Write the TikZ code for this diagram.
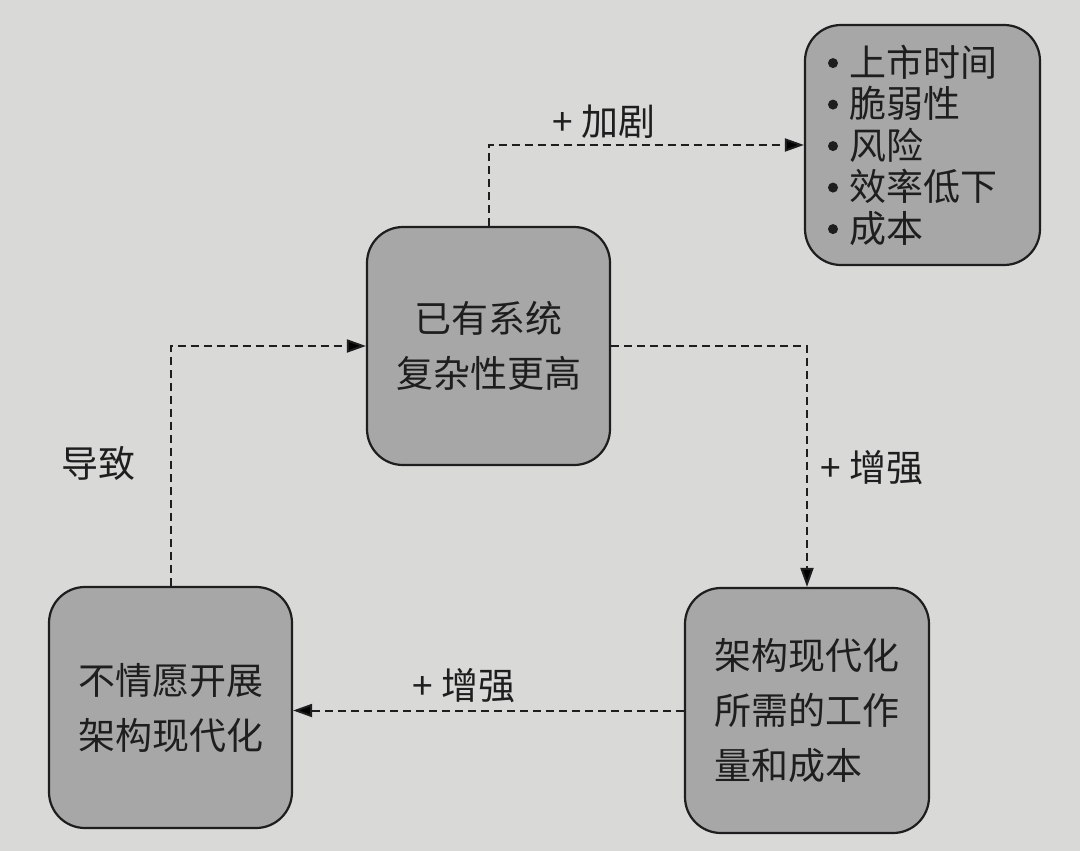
\documentclass[tikz,border=0pt]{standalone}
\usepackage{fontspec}
\setmainfont{Noto Sans CJK SC}
\usetikzlibrary{arrows.meta}
\definecolor{bg}{HTML}{D9D9D7}
\definecolor{boxfill}{HTML}{A7A7A7}
\definecolor{ink}{HTML}{1E1E1E}
\newcommand\bul{\makebox[21pt][l]{\tikz[baseline={(0pt,-13pt)}]\fill[ink] (0pt,0pt) circle (5pt);}}
\begin{document}
\begin{tikzpicture}[x=1pt,y=-1pt,
  box/.style={draw=ink, line width=2.2pt, fill=boxfill, rounded corners=36pt,
    inner sep=0pt, text=ink, font=\fontsize{37}{55}\selectfont},
  flow/.style={draw=ink, line width=2pt, dash pattern=on 8pt off 5pt,
    -{Triangle[length=19pt,width=13pt]}},
  lbl/.style={text=ink, font=\fontsize{37}{44}\selectfont, inner sep=0pt}]
\fill[bg] (0,0) rectangle (1080,851);
\useasboundingbox (0,0) rectangle (1080,851);

\node[box, minimum width=243pt, minimum height=238pt, align=center] (c) at (488.5,346)
  {已有系统\\复杂性更高};
\node[box, minimum width=235pt, minimum height=240pt, align=left,
  font=\fontsize{37}{41.5}\selectfont, text width=189pt] (tr) at (922.5,145)
  {\bul 上市时间\\\bul 脆弱性\\\bul 风险\\\bul 效率低下\\\bul 成本};
\node[box, minimum width=243pt, minimum height=241pt, align=center] (bl) at (170.5,707.5)
  {不情愿开展\\架构现代化};
\node[box, minimum width=244pt, minimum height=245pt, align=left] (br) at (807,710.5)
  {架构现代化\\所需的工作\\量和成本};

\draw[flow] (c.north) |- (tr.west);
\draw[flow] (c.east) -| (br.north);
\draw[flow] (br.west) -- (br.west -| bl.east);
\draw[flow] (bl.north) |- (c.west);

\node[lbl] (l1) at (604,122) {+ 加剧};
\node[lbl] (l2) at (872,468) {+ 增强};
\node[lbl] (l3) at (464,686) {+ 增强};
\node[lbl] (l4) at (98,463) {导致};
\end{tikzpicture}
\end{document}
